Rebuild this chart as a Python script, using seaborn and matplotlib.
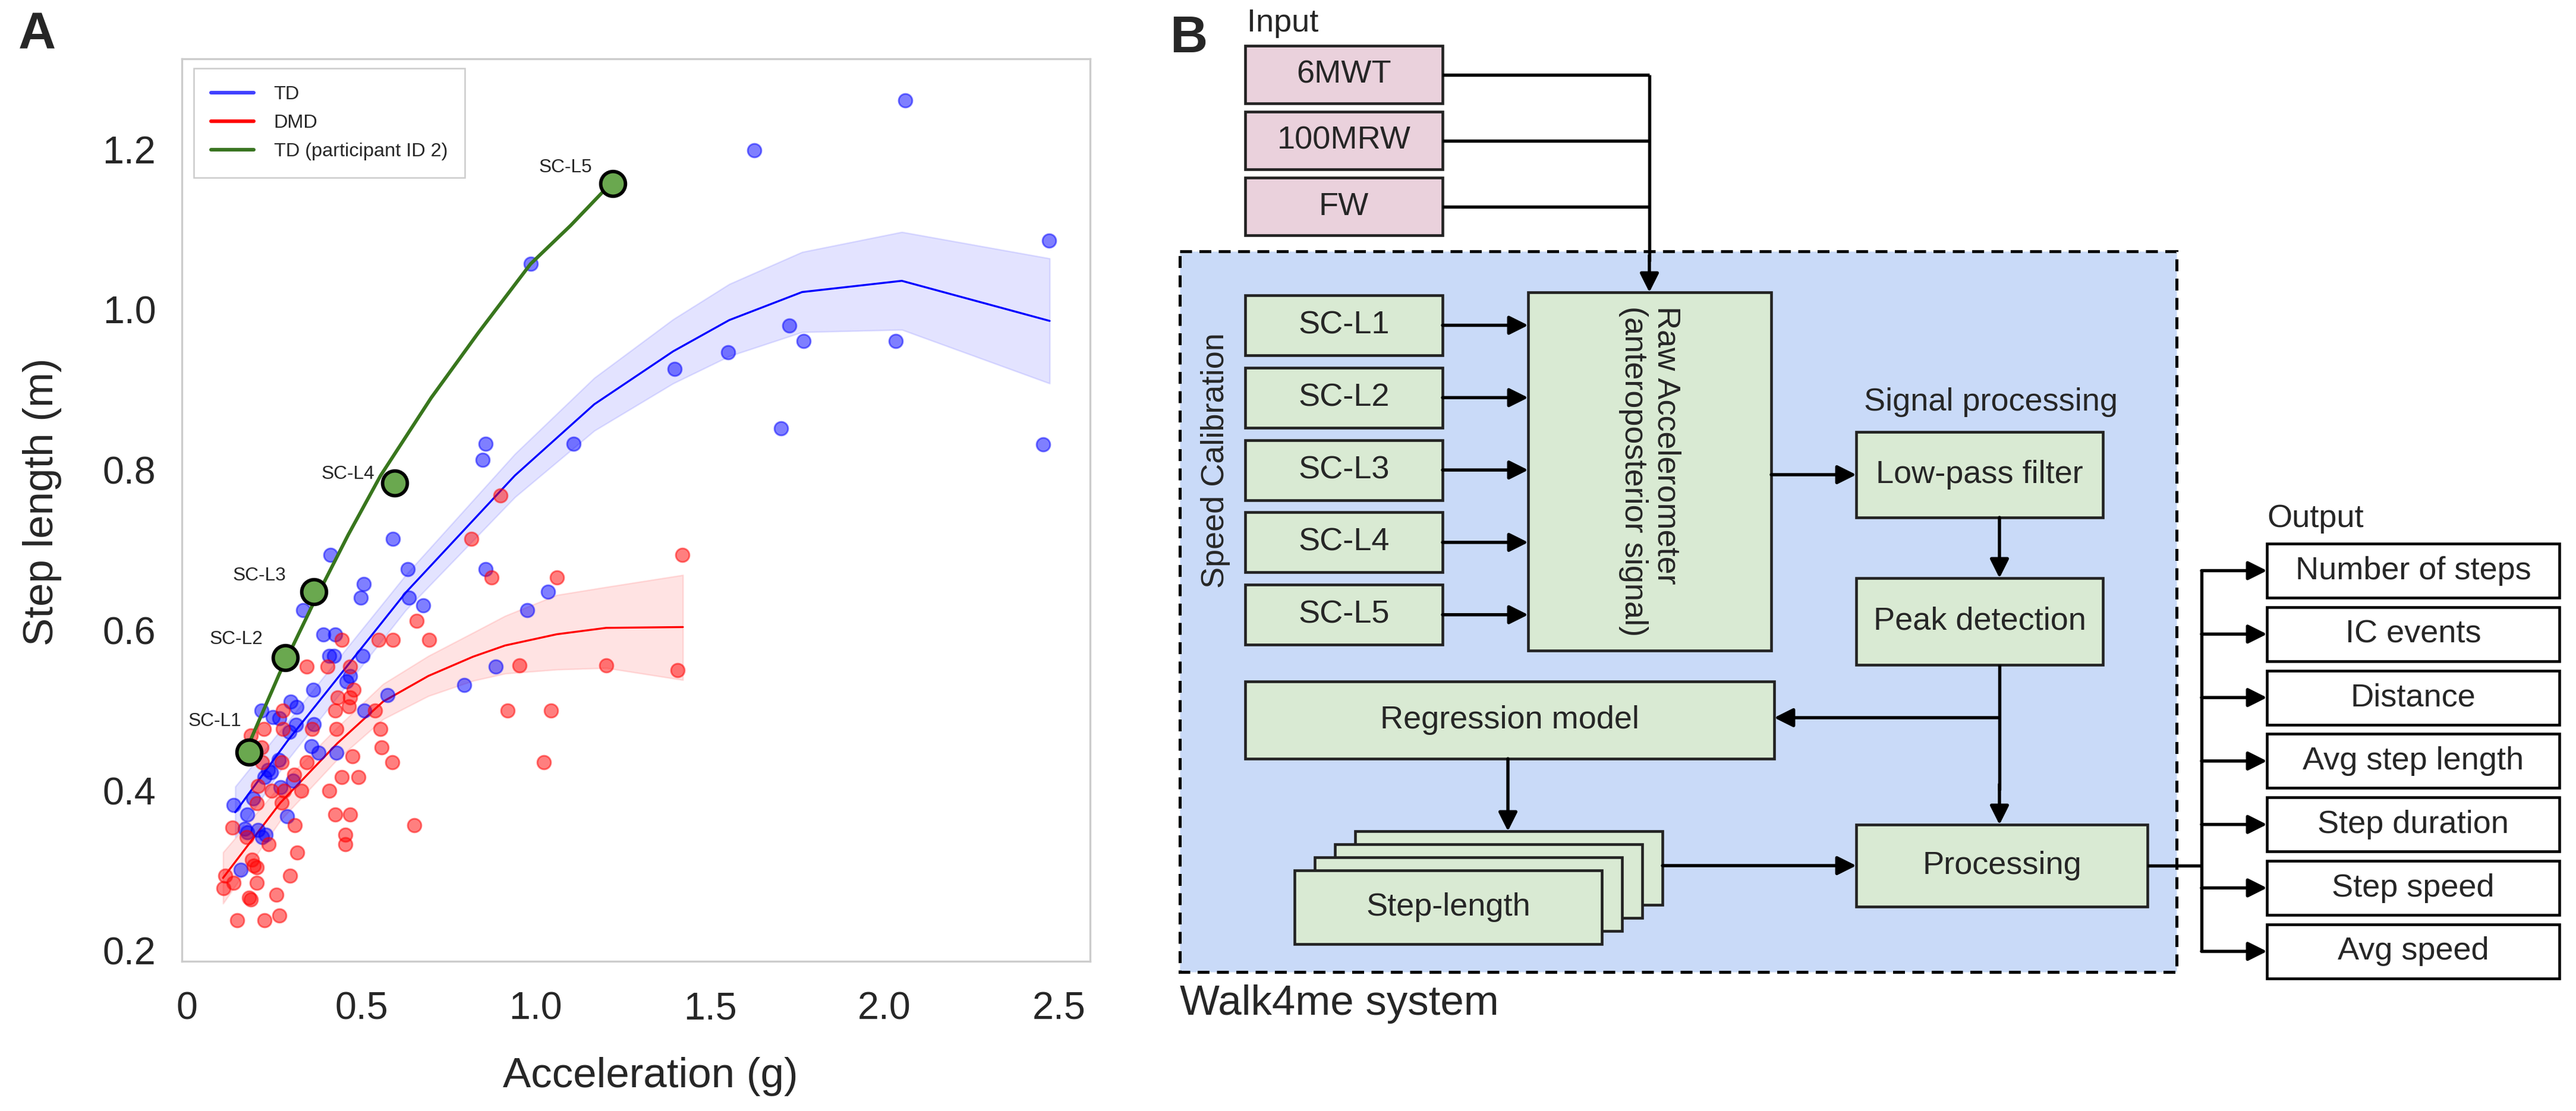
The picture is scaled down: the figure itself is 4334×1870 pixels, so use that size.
import matplotlib
matplotlib.use("Agg")
import matplotlib.pyplot as plt
from matplotlib.lines import Line2D
from matplotlib.patches import Rectangle
import seaborn as sns

# ---- panel A data ----
td_x = [2.060, 1.626, 0.985, 1.728, 1.768, 2.033, 1.551, 1.399, 2.472, 1.704,
        2.455, 1.108, 1.035, 0.976, 0.857, 0.847, 0.591, 0.412, 0.633, 0.506,
        0.857, 0.498, 0.637, 0.678, 0.333, 0.390, 0.425, 0.408, 0.421, 0.503,
        0.885, 0.468, 0.457, 0.795, 0.361, 0.575, 0.508, 0.297, 0.314, 0.214,
        0.245, 0.265, 0.312, 0.363, 0.294, 0.356, 0.377, 0.429, 0.263, 0.232,
        0.240, 0.222, 0.304, 0.268, 0.190, 0.134, 0.173, 0.286, 0.165, 0.172,
        0.203, 0.226, 0.216, 0.154]
td_y = [1.261, 1.199, 1.057, 0.980, 0.961, 0.961, 0.947, 0.926, 1.086, 0.852,
        0.832, 0.833, 0.648, 0.625, 0.833, 0.813, 0.714, 0.694, 0.676, 0.658,
        0.676, 0.641, 0.641, 0.631, 0.625, 0.595, 0.595, 0.568, 0.568, 0.568,
        0.555, 0.543, 0.536, 0.532, 0.526, 0.519, 0.500, 0.511, 0.504, 0.500,
        0.492, 0.490, 0.482, 0.483, 0.473, 0.455, 0.447, 0.447, 0.438, 0.426,
        0.423, 0.417, 0.412, 0.404, 0.390, 0.382, 0.370, 0.368, 0.352, 0.348,
        0.351, 0.345, 0.342, 0.301]

dmd_x = [0.899, 1.421, 1.061, 0.954, 1.202, 1.407, 0.920, 1.043, 1.024, 0.816,
         0.874, 0.658, 0.443, 0.549, 0.591, 0.695, 0.343, 0.402, 0.468, 0.477,
         0.431, 0.468, 0.425, 0.464, 0.539, 0.274, 0.359, 0.221, 0.274, 0.429,
         0.555, 0.183, 0.213, 0.475, 0.558, 0.588, 0.271, 0.343, 0.216, 0.444,
         0.492, 0.307, 0.278, 0.327, 0.242, 0.203, 0.408, 0.199, 0.271, 0.309,
         0.425, 0.467, 0.651, 0.130, 0.170, 0.234, 0.453, 0.453, 0.316, 0.187,
         0.200, 0.192, 0.110, 0.296, 0.134, 0.200, 0.104, 0.256, 0.182, 0.178,
         0.144, 0.222, 0.265]
dmd_y = [0.768, 0.694, 0.666, 0.556, 0.556, 0.550, 0.500, 0.500, 0.435, 0.714,
         0.666, 0.612, 0.588, 0.588, 0.588, 0.588, 0.555, 0.555, 0.555, 0.526,
         0.516, 0.516, 0.500, 0.505, 0.500, 0.500, 0.477, 0.477, 0.477, 0.477,
         0.477, 0.469, 0.454, 0.443, 0.454, 0.435, 0.435, 0.435, 0.435, 0.417,
         0.417, 0.420, 0.400, 0.400, 0.400, 0.406, 0.400, 0.384, 0.385, 0.357,
         0.370, 0.370, 0.357, 0.354, 0.342, 0.333, 0.345, 0.333, 0.323, 0.314,
         0.304, 0.306, 0.294, 0.294, 0.285, 0.285, 0.278, 0.270, 0.264, 0.266,
         0.238, 0.238, 0.244]

# fitted curves with their confidence bands
td_fit_x = [0.138, 0.288, 0.627, 0.940, 1.168, 1.394, 1.555, 1.764, 2.050, 2.474]
td_fit = [0.373, 0.462, 0.647, 0.793, 0.882, 0.948, 0.987, 1.022, 1.036, 0.986]
td_lo = [0.342, 0.438, 0.625, 0.766, 0.849, 0.908, 0.942, 0.972, 0.975, 0.908]
td_hi = [0.405, 0.486, 0.669, 0.820, 0.915, 0.988, 1.032, 1.072, 1.097, 1.064]

dmd_fit_x = [0.103, 0.268, 0.431, 0.562, 0.692, 0.820, 0.912, 1.060, 1.202, 1.422]
dmd_fit = [0.291, 0.385, 0.459, 0.511, 0.543, 0.567, 0.581, 0.595, 0.603, 0.604]
dmd_lo = [0.259, 0.363, 0.439, 0.489, 0.518, 0.537, 0.546, 0.551, 0.553, 0.538]
dmd_hi = [0.323, 0.407, 0.479, 0.533, 0.568, 0.597, 0.618, 0.644, 0.654, 0.669]

# participant ID 2 (speed calibration levels)
sc_labels = ["SC-L1", "SC-L2", "SC-L3", "SC-L4", "SC-L5"]
sc_x = [0.177, 0.281, 0.364, 0.595, 1.221]
sc_y = [0.448, 0.566, 0.648, 0.784, 1.157]
green_x = [0.177, 0.265, 0.366, 0.462, 0.555, 0.700, 0.835, 0.985, 1.100, 1.221]
green_y = [0.458, 0.546, 0.637, 0.719, 0.793, 0.890, 0.971, 1.057, 1.105, 1.160]

x_ticks = [0, 0.5, 1.0, 1.5, 2.0, 2.5]
x_tick_labels = ["0", "0.5", "1.0", "1.5", "2.0", "2.5"]
y_ticks = [0.2, 0.4, 0.6, 0.8, 1.0, 1.2]
y_tick_labels = ["0.2", "0.4", "0.6", "0.8", "1.0", "1.2"]

# ---- panel B texts ----
input_labels = ["6MWT", "100MRW", "FW"]
sc_box_labels = ["SC-L1", "SC-L2", "SC-L3", "SC-L4", "SC-L5"]
output_labels = ["Number of steps", "IC events", "Distance", "Avg step length",
                 "Step duration", "Step speed", "Avg speed"]

sns.set_theme(style="white")
plt.rcParams["font.family"] = ["Liberation Sans", "DejaVu Sans"]

W, H = 4334, 1870
DPI = 300
fig = plt.figure(figsize=(W / DPI, H / DPI), dpi=DPI)

# ================= panel A =================
L, R, T, B = 306, 1834, 99, 1618
ax = fig.add_axes([L / W, 1 - B / H, (R - L) / W, (B - T) / H])

ax.fill_between(td_fit_x, td_lo, td_hi, color="blue", alpha=0.11, lw=0.6, zorder=1)
ax.fill_between(dmd_fit_x, dmd_lo, dmd_hi, color="red", alpha=0.11, lw=0.6, zorder=1)
sns.lineplot(x=td_fit_x, y=td_fit, color="blue", lw=0.8, estimator=None, ax=ax, zorder=2)
sns.lineplot(x=dmd_fit_x, y=dmd_fit, color="red", lw=0.8, estimator=None, ax=ax, zorder=2)

sns.scatterplot(x=td_x, y=td_y, color="blue", edgecolor="blue", alpha=0.5, s=30,
                linewidth=0.7, legend=False, ax=ax, zorder=3)
sns.scatterplot(x=dmd_x, y=dmd_y, color="red", edgecolor="red", alpha=0.5, s=30,
                linewidth=0.7, legend=False, ax=ax, zorder=3)

sns.lineplot(x=green_x, y=green_y, color="#38761d", lw=1.4, estimator=None, ax=ax, zorder=4)
sns.scatterplot(x=sc_x, y=sc_y, color="#6aa84f", edgecolor="black", s=100,
                linewidth=1.4, legend=False, ax=ax, zorder=5)

label_offsets = [(-3, 12.5), (-9, 7.4), (-11.3, 6.5), (-8, 3.4), (-8.4, 6.6)]
for lab, x, y, off in zip(sc_labels, sc_x, sc_y, label_offsets):
    ax.annotate(lab, (x, y), xytext=off, textcoords="offset points",
                ha="right", va="center", fontsize=7.6)

ax.set_xlim(-0.015, 2.59)
ax.set_ylim(0.187, 1.313)
ax.set_xticks(x_ticks)
ax.set_xticklabels(x_tick_labels)
ax.set_yticks(y_ticks)
ax.set_yticklabels(y_tick_labels)
ax.tick_params(axis="both", length=0, labelsize=15.5)
ax.tick_params(axis="x", pad=12)
ax.tick_params(axis="y", pad=10.5)
for sp in ax.spines.values():
    sp.set_color("#cccccc")
    sp.set_linewidth(0.8)

ax.set_xlabel("Acceleration (g)", fontsize=17)
ax.set_ylabel("Step length (m)", fontsize=17)
ax.xaxis.label.set_va("center")
ax.yaxis.label.set_va("center")
ax.xaxis.set_label_coords(0.516, -0.128)
ax.yaxis.set_label_coords(-0.154, 0.509)

handles = [Line2D([], [], color="#4040ff", lw=1.45),
           Line2D([], [], color="red", lw=1.45),
           Line2D([], [], color="#3a7522", lw=1.45)]
leg = ax.legend(handles, ["TD", "DMD", "TD (participant ID 2)"], loc="upper left",
                bbox_to_anchor=(0.013, 0.9895), borderaxespad=0, fontsize=7.8,
                handlelength=2.2, handletextpad=1.05, labelspacing=0.55,
                borderpad=0.9, fancybox=False, framealpha=1, edgecolor="#cccccc")
leg.get_frame().set_linewidth(0.6)

# ================= panel B (pixel coordinates) =================
axb = fig.add_axes([0, 0, 1, 1])
axb.set_xlim(0, W)
axb.set_ylim(H, 0)
axb.axis("off")

LW = 1.3
FS = 13


def box(x0, y0, x1, y1, text, fc, ec="#222222", fs=FS, rot=0, z=3):
    axb.add_patch(Rectangle((x0, y0), x1 - x0, y1 - y0, fc=fc, ec=ec, lw=1.1, zorder=z))
    if text:
        axb.text((x0 + x1) / 2, (y0 + y1) / 2, text, ha="center", va="center",
                 fontsize=fs, rotation=rot, zorder=z + 1, linespacing=1.15,
                 multialignment="left")


def arrow(x0, y0, x1, y1):
    axb.annotate("", xy=(x1, y1), xytext=(x0, y0),
                 arrowprops=dict(arrowstyle="-|>", lw=LW, color="black",
                                 mutation_scale=16, shrinkA=0, shrinkB=0), zorder=6)


def line(xs, ys):
    axb.plot(xs, ys, color="black", lw=LW, solid_capstyle="butt", zorder=6)


PINK = "#ead1dc"
GREEN = "#d9ead3"
BLUE_BG = "#c9daf8"

# system background
axb.add_patch(Rectangle((1985, 423), 3662 - 1985, 1636 - 423, fc=BLUE_BG, ec="black",
                        lw=1.2, ls=(0, (4, 2.5)), zorder=1))
axb.text(1985, 1690, "Walk4me system", ha="left", va="center", fontsize=17)

# inputs
axb.text(2098, 39, "Input", ha="left", va="center", fontsize=FS)
bus_x = 2775
for i, lab in enumerate(input_labels):
    y0 = 77 + i * 111
    box(2095, y0, 2427, y0 + 97, lab, PINK)
    line([2427, bus_x], [y0 + 48.5, y0 + 48.5])
line([bus_x, bus_x], [125.5, 440])
arrow(bus_x, 430, bus_x, 492)

# speed calibration boxes
axb.text(2045, 775, "Speed Calibration", ha="center", va="center", fontsize=FS, rotation=90)
for i, lab in enumerate(sc_box_labels):
    y0 = 497 + i * 121.8
    box(2095, y0, 2427, y0 + 101, lab, GREEN)
    arrow(2427, y0 + 50.5, 2571, y0 + 50.5)

box(2571, 492, 2980, 1095, "Raw Accelerometer\n(anteroposterior signal)", GREEN, rot=-90)

# signal processing
axb.text(3350, 677, "Signal processing", ha="center", va="center", fontsize=FS)
box(3123, 727, 3538, 871, "Low-pass filter", GREEN)
arrow(2980, 799, 3123, 799)
box(3123, 973, 3538, 1119, "Peak detection", GREEN)
px = 3364
arrow(px, 871, px, 973)
line([px, px], [1119, 1330])
arrow(px, 1320, px, 1388)
arrow(px, 1208, 2985, 1208)

box(2095, 1147, 2985, 1277, "Regression model", GREEN)
arrow(2537, 1277, 2537, 1399)

# stack of step-length boxes
for k in (3, 2, 1, 0):
    box(2178 + 34 * k, 1465 - 22 * k, 2695 + 34 * k, 1589 - 22 * k,
        "Step-length" if k == 0 else "", GREEN)
arrow(2797, 1457, 3123, 1457)

box(3123, 1388, 3613, 1526, "Processing", GREEN)

# outputs
axb.text(3814, 873, "Output", ha="left", va="center", fontsize=FS)
out_x = 3704
line([3613, out_x], [1457, 1457])
line([out_x, out_x], [960.5, 1601.5])
for i, lab in enumerate(output_labels):
    y0 = 915 + i * 106.8
    box(3814, y0, 4306, y0 + 91, lab, "white", ec="black")
    arrow(out_x, y0 + 45.5, 3814, y0 + 45.5)

# panel letters
fig.text(31 / W, 1 - 81 / H, "A", fontsize=21, fontweight="bold", ha="left", va="baseline")
fig.text(1968 / W, 1 - 88 / H, "B", fontsize=21, fontweight="bold", ha="left", va="baseline")

fig.savefig("out.png", dpi=DPI)
